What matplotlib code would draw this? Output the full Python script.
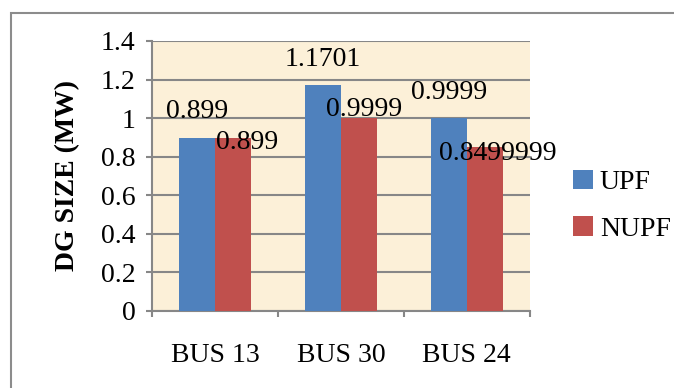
import numpy as np
import matplotlib
matplotlib.use("Agg")
import matplotlib.pyplot as plt
from matplotlib.patches import Rectangle

# DG sizes per bus for the two power-factor cases
buses = ["BUS 13", "BUS 30", "BUS 24"]
upf = [0.899, 1.1701, 0.9999]
nupf = [0.899, 0.9999, 0.8499999]
upf_text = ["0.899", "1.1701", "0.9999"]
nupf_text = ["0.899", "0.9999", "0.8499999"]
y_ticks = [0, 0.2, 0.4, 0.6, 0.8, 1.0, 1.2, 1.4]
y_tick_text = ["0", "0.2", "0.4", "0.6", "0.8", "1", "1.2", "1.4"]

BLUE = "#4F81BD"
RED = "#C0504D"
GRID = "#878787"
FS = 20

plt.rcParams["font.family"] = ["Liberation Serif", "DejaVu Serif"]

fig = plt.figure(figsize=(6.74, 3.88), dpi=100)
ax = fig.add_axes([0.2255, 0.1985, 0.5605, 0.696])

# chart frame
fig.patches.append(Rectangle((10.5 / 674, -0.1), 1.2, 1 - 12.5 / 388 + 0.1,
                             transform=fig.transFigure, fill=False,
                             edgecolor="#8c8c8c", linewidth=1.5))

x = np.arange(len(buses))
w = 0.286
ax.bar(x - w / 2, upf, w, color=BLUE, label="UPF", zorder=3)
ax.bar(x + w / 2, nupf, w, color=RED, label="NUPF", zorder=3)

# data labels, nudged the way they sit on the chart
upf_off = [(0, 26), (0, 26), (0, 26)]
nupf_off = [(14, -5), (5, 9), (13, -6)]
for xi, v, t, o in zip(x, upf, upf_text, upf_off):
    ax.annotate(t, (xi - w / 2, v), xytext=o, textcoords="offset pixels",
                ha="center", va="center", fontsize=FS, zorder=5)
for xi, v, t, o in zip(x, nupf, nupf_text, nupf_off):
    ax.annotate(t, (xi + w / 2, v), xytext=o, textcoords="offset pixels",
                ha="center", va="center", fontsize=FS, zorder=5,
                annotation_clip=False)

ax.set_facecolor("#FCF0D8")
ax.set_xlim(-0.5, 2.5)
ax.set_ylim(0, 1.4)
ax.set_yticks(y_ticks)
ax.set_yticklabels(y_tick_text, fontsize=FS)
ax.yaxis.grid(True, color=GRID, linewidth=1.5, zorder=0)
ax.set_axisbelow(True)

ax.set_xticks(x)
ax.set_xticklabels(buses, fontsize=FS)
ax.set_xticks([-0.5, 0.5, 1.5, 2.5], minor=True)
ax.tick_params(axis="x", which="major", length=0, pad=23)
ax.tick_params(axis="x", which="minor", length=4, width=1.5, color=GRID)
ax.tick_params(axis="y", length=4, width=1.5, color=GRID, pad=8)

for s in ["top", "right"]:
    ax.spines[s].set_visible(False)
for s in ["left", "bottom"]:
    ax.spines[s].set_color(GRID)
    ax.spines[s].set_linewidth(1.5)

ax.set_ylabel("DG SIZE (MW)", fontsize=FS, fontweight="bold", labelpad=15)

ax.legend(loc="center left", bbox_to_anchor=(1.086, 0.39), frameon=False,
          fontsize=FS, handlelength=0.7, handleheight=0.7, handletextpad=0.25,
          labelspacing=0.75, borderaxespad=0)

fig.savefig("out.png", dpi=100)
